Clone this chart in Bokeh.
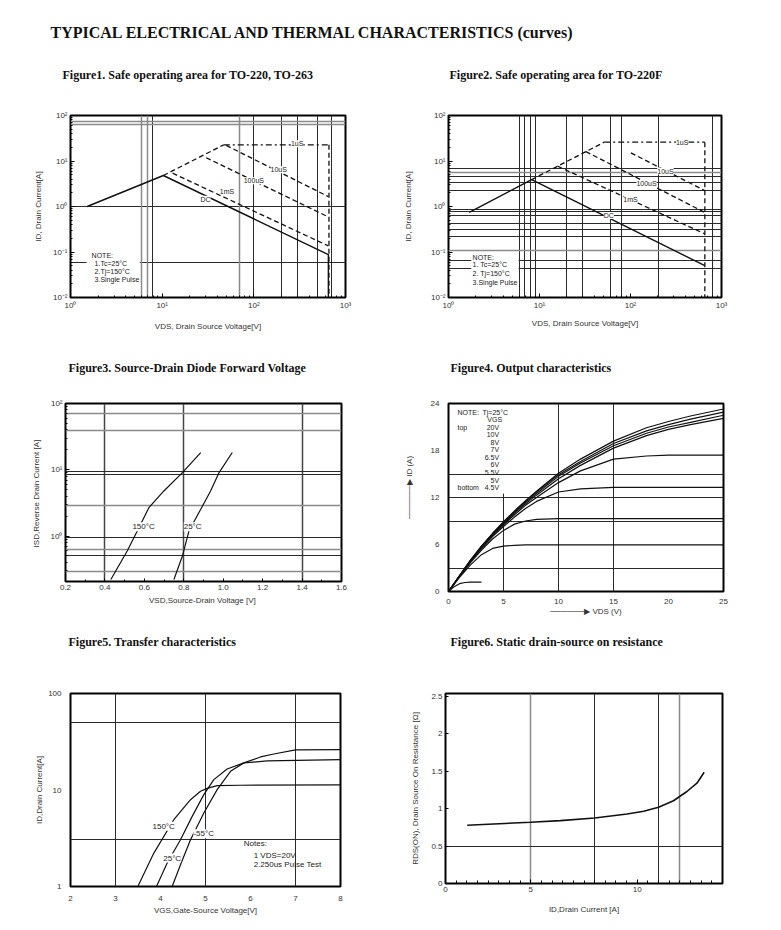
from bokeh.plotting import figure
from bokeh.models import FixedTicker, Grid, Label, Range1d, ColumnDataSource, BoxAnnotation
from bokeh.layouts import column, row
from bokeh.embed import file_html
from bokeh.resources import INLINE
from bokeh.core.properties import value

# ------------------------------------------------------------------ data
page_title = "TYPICAL ELECTRICAL AND THERMAL CHARACTERISTICS (curves)"
fig_titles = [
    "Figure1. Safe operating area for TO-220,  TO-263",
    "Figure2. Safe operating area for TO-220F",
    "Figure3. Source-Drain Diode Forward Voltage",
    "Figure4. Output characteristics",
    "Figure5. Transfer characteristics",
    "Figure6. Static drain-source on resistance",
]

# log tick labels
dec_ticks_x = [1, 10, 100, 1000]
dec_labels_x = ["10\u2070", "10\u00b9", "10\u00b2", "10\u00b3"]
dec_ticks_y = [0.01, 0.1, 1, 10, 100]
dec_labels_y = ["10\u207b\u00b2", "10\u207b\u00b9", "10\u2070", "10\u00b9", "10\u00b2"]

# Figure 1 : SOA TO-220 / TO-263
f1_dc_v = [1.52, 10.3, 650, 650]
f1_dc_i = [1.0, 4.8, 0.088, 0.01]
f1_lim_v = [10.3, 47.0]
f1_lim_i = [4.8, 22.7]
f1_1us_v = [47.0, 660]
f1_1us_i = [22.7, 22.7]
f1_edge_v = [660, 660]
f1_edge_i = [22.7, 0.01]
f1_10us_v = [50, 650]
f1_10us_i = [22.0, 1.65]
f1_100us_v = [30.2, 650]
f1_100us_i = [11.8, 0.59]
f1_1ms_v = [13.0, 650]
f1_1ms_i = [5.4, 0.136]
f1_curve_labels = ["1uS", "10uS", "100uS", "1mS", "DC"]
f1_label_v = [297, 187, 100, 51, 29.7]
f1_label_i = [23.9, 6.4, 3.7, 2.17, 1.45]
f1_grid_x_dark = [7.9, 100, 200, 300, 500, 700]
f1_grid_x_light = [5.9, 6.9, 70]
f1_grid_y_dark = [1.0, 0.058]
f1_grid_y_light = [63, 75]

# Figure 2 : SOA TO-220F
f2_dc_v = [1.69, 8.2, 656]
f2_dc_i = [0.74, 3.9, 0.050]
f2_lim_v = [8.2, 51.4]
f2_lim_i = [3.9, 25.9]
f2_1us_v = [51.4, 656]
f2_1us_i = [25.9, 25.9]
f2_edge_v = [656, 656]
f2_edge_i = [25.9, 0.01]
f2_10us_v = [101, 656]
f2_10us_i = [15.1, 2.23]
f2_100us_v = [32.3, 656]
f2_100us_i = [16.1, 0.74]
f2_1ms_v = [15.8, 656]
f2_1ms_i = [7.7, 0.25]
f2_curve_labels = ["1uS", "10uS", "100uS", "1mS", "DC"]
f2_label_v = [370, 242, 150, 100, 57.8]
f2_label_i = [25.9, 6.0, 3.15, 1.40, 0.634]
f2_grid_x_dark = [6.0, 6.9, 7.9, 9.0, 20, 30, 61, 80, 203, 800]
f2_grid_y_dark = [6.7, 4.5, 3.3, 2.2, 0.88, 0.77, 0.63, 0.43, 0.31, 0.22, 0.066, 0.044]
f2_grid_y_light = [5.65, 0.107]

note_lines_f1 = ["NOTE:", "1.Tc=25\u00b0C", "2.Tj=150\u00b0C", "3.Single Pulse"]
note_lines_f2 = ["NOTE:", "1. Tc=25\u00b0C", "2. Tj=150\u00b0C", "3.Single Pulse"]

# Figure 3 : diode forward voltage
f3_150_v = [0.43, 0.513, 0.564, 0.623, 0.699, 0.793, 0.886]
f3_150_i = [0.221, 0.593, 1.19, 2.68, 4.79, 9.06, 18.2]
f3_25_v = [0.750, 0.793, 0.826, 0.886, 0.936, 0.979, 1.046]
f3_25_i = [0.221, 0.499, 1.19, 2.53, 4.79, 9.06, 18.2]
f3_x_ticks = [0.2, 0.4, 0.6, 0.8, 1.0, 1.2, 1.4, 1.6]
f3_x_labels = ["0.2", "0.4", "0.6", "0.8", "1.0", "1.2", "1.4", "1.6"]
f3_y_ticks = [1, 10, 100]
f3_y_labels = ["10\u2070", "10\u00b9", "10\u00b2"]
f3_grid_x = [0.4, 0.8, 1.4]
f3_grid_y_dark = [9.27, 8.36, 0.966, 0.51]
f3_grid_y_light = [70.6, 38.6, 2.84, 0.63, 0.296]

# Figure 4 : output characteristics
out_vds = [0, 1, 2, 3, 4, 5, 6, 7, 8, 10, 12, 15, 18, 20, 22, 25]
id_20v = [0, 2.0, 4.0, 5.8, 7.4, 8.9, 10.3, 11.6, 12.8, 15.1, 16.9, 19.2, 20.9, 21.7, 22.4, 23.3]
id_10v = [0, 2.0, 4.0, 5.8, 7.4, 8.8, 10.2, 11.5, 12.7, 14.9, 16.6, 18.9, 20.5, 21.3, 22.0, 22.9]
id_8v = [0, 2.0, 3.9, 5.7, 7.3, 8.7, 10.1, 11.4, 12.5, 14.7, 16.4, 18.6, 20.2, 21.0, 21.6, 22.5]
id_7v = [0, 2.0, 3.9, 5.7, 7.2, 8.6, 10.0, 11.2, 12.3, 14.4, 16.1, 18.3, 19.9, 20.7, 21.3, 22.1]
id_6v5 = [0, 2.0, 3.9, 5.6, 7.1, 8.5, 9.8, 11.0, 12.0, 13.9, 15.4, 16.9, 17.3, 17.4, 17.4, 17.4]
id_6v = [0, 1.9, 3.8, 5.5, 7.0, 8.3, 9.5, 10.6, 11.5, 12.7, 13.1, 13.3, 13.3, 13.3, 13.3, 13.3]
id_5v5 = [0, 1.9, 3.7, 5.3, 6.7, 7.8, 8.6, 9.0, 9.2, 9.3, 9.3, 9.3, 9.3, 9.3, 9.3, 9.3]
id_5v = [0, 1.8, 3.4, 4.7, 5.5, 5.8, 5.9, 5.95, 5.95, 5.95, 5.95, 5.95, 5.95, 5.95, 5.95, 5.95]
vds_4v5 = [0, 0.5, 1, 1.5, 2, 3]
id_4v5 = [0, 0.6, 1.0, 1.15, 1.2, 1.2]
vgs_levels = ["20V", "10V", "8V", "7V", "6.5V", "6V", "5.5V", "5V", "4.5V"]
f4_x_ticks = [0, 5, 10, 15, 20, 25]
f4_y_ticks = [0, 6, 12, 18, 24]
f4_grid_x = [10, 15]
f4_grid_y = [3, 9, 12, 15]

# Figure 5 : transfer characteristics
f5_150_v = [3.504, 3.852, 4.296, 4.667, 4.889, 5.037, 5.259, 5.778, 8.0]
f5_150_i = [1.016, 2.22, 4.92, 7.93, 9.69, 10.4, 11.1, 11.2, 11.3]
f5_25_v = [3.911, 4.148, 4.444, 4.704, 4.963, 5.185, 5.481, 5.852, 6.370, 8.0]
f5_25_i = [1.0, 1.75, 3.05, 5.33, 8.95, 12.8, 16.5, 19.1, 20.0, 20.6]
f5_m55_v = [4.259, 4.444, 4.667, 4.963, 5.259, 5.556, 5.852, 6.222, 6.519, 7.0, 8.0]
f5_m55_i = [1.0, 1.68, 3.05, 5.77, 10.1, 15.6, 19.1, 22.0, 23.6, 26.0, 26.2]
f5_x_ticks = [2, 3, 4, 5, 6, 7, 8]
f5_y_ticks = [1, 10, 100]
f5_y_labels = ["1", "10", "100"]
f5_grid_x = [3, 5, 7]
f5_grid_y = [50, 3.05]

# Figure 6 : on resistance
f6_id = [2.02, 3.26, 4.98, 6.39, 8.0, 9.52, 10.3, 11.0, 11.7, 12.33, 12.8, 13.14]
f6_r = [0.779, 0.796, 0.819, 0.841, 0.876, 0.929, 0.965, 1.018, 1.106, 1.230, 1.341, 1.487]
f6_x_ticks = [1, 5, 10]
f6_x_labels = ["0", "5", "10"]
f6_y_ticks = [0, 0.5, 1, 1.5, 2, 2.5]
f6_y_labels = ["0", "0.5", "1", "1.5", "2", "2.5"]
f6_grid_x_dark = [8, 11]
f6_grid_x_light = [5, 12]
f6_grid_y = [0.5]

# ------------------------------------------------------------------ style helpers
SANS = "Liberation Sans"
SERIF = "Liberation Serif"
INK = "#111111"
TXT = "#333333"
DARK = "#2a2a2a"
LIGHT = "#8a8a8a"
PAGE_W = 773


def base_fig(xr, yr, fw, fh, bl, br, bt, bb, xt="linear", yt="linear"):
    p = figure(x_axis_type=xt, y_axis_type=yt, x_range=Range1d(*xr), y_range=Range1d(*yr),
               frame_width=fw, frame_height=fh, min_border_left=bl, min_border_right=br,
               min_border_top=bt, min_border_bottom=bb, output_backend="svg",
               toolbar_location=None)
    p.outline_line_color = "black"
    p.outline_line_width = 2
    p.grid.visible = False
    for ax in (p.xaxis[0], p.yaxis[0]):
        ax.axis_line_color = None
        ax.major_tick_line_color = None
        ax.minor_tick_line_color = None
        ax.major_label_text_font = SANS
        ax.major_label_text_font_size = "8px"
        ax.major_label_text_color = TXT
        ax.axis_label_text_font = SANS
        ax.axis_label_text_font_size = "8px"
        ax.axis_label_text_font_style = "normal"
        ax.axis_label_text_color = TXT
        ax.major_label_standoff = 3
        ax.axis_label_standoff = 4
    return p


def inner_ticks(ax, major=0, minor=3):
    ax.major_tick_line_color = "black" if major else None
    ax.major_tick_in = major
    ax.major_tick_out = 0
    ax.minor_tick_line_color = "black" if minor else None
    ax.minor_tick_in = minor
    ax.minor_tick_out = 0


def add_grid(p, dim, ticks, color, width=1.0):
    p.add_layout(Grid(dimension=dim, ticker=FixedTicker(ticks=ticks),
                      grid_line_color=color, grid_line_width=width))


def txt(p, x, y, text, size="7px", align="left", baseline="middle", bg=None):
    lab = Label(x=x, y=y, text=text, text_font=SANS, text_font_size=size, text_color="#222222",
                text_align=align, text_baseline=baseline)
    if bg:
        lab.background_fill_color = bg
    p.add_layout(lab)


def strip(height, items):
    """A text band (page title / figure captions); coordinates are pixels of the band."""
    s = figure(width=PAGE_W, height=height, x_range=Range1d(0, PAGE_W), y_range=Range1d(0, height),
               x_axis_location=None, y_axis_location=None, toolbar_location=None,
               output_backend="svg", min_border=0)
    s.outline_line_color = None
    s.grid.visible = False
    for x, y_from_top, text, size in items:
        s.add_layout(Label(x=x, y=height - y_from_top, text=text, text_font=SERIF,
                           text_font_size=size, text_font_style="bold",
                           text_baseline="middle", text_color=INK))
    return s


log_minor = lambda lo, hi: [m * 10.0 ** k for k in range(lo, hi) for m in range(2, 10)]

# ------------------------------------------------------------------ caption bands
band_a = strip(95, [(50, 32, page_title, "16px"),
                    (62, 74, fig_titles[0], "12px"),
                    (449, 74, fig_titles[1], "12px")])
band_b = strip(45, [(68, 27, fig_titles[2], "12px"),
                    (450, 27, fig_titles[3], "12px")])
band_c = strip(40, [(68, 21, fig_titles[4], "12px"),
                    (450, 21, fig_titles[5], "12px")])


# ------------------------------------------------------------------ SOA figures
def soa(dc, lim, us1, edge, us10, us100, ms1, lab_txt, lab_v, lab_i,
        gx_dark, gx_light, gy_dark, gy_light, notes, note_x, note_y, box,
        bl, br, fw, xstand, ystand):
    p = base_fig((1, 1000), (0.01, 100), fw, 182, bl, br, 20, 43, "log", "log")
    p.xaxis.axis_label = "VDS, Drain Source Voltage[V]"
    p.yaxis.axis_label = "ID, Drain Current[A]"
    p.xaxis.axis_label_standoff = xstand
    p.yaxis.axis_label_standoff = ystand
    for ax, ticks, labels, minors in ((p.xaxis[0], dec_ticks_x, dec_labels_x, log_minor(0, 3)),
                                      (p.yaxis[0], dec_ticks_y, dec_labels_y, log_minor(-2, 2))):
        ax.ticker = FixedTicker(ticks=ticks, minor_ticks=minors)
        ax.major_label_overrides = dict(zip(ticks, labels))
        inner_ticks(ax, major=4, minor=2)
    add_grid(p, 0, gx_dark, DARK)
    add_grid(p, 1, gy_dark, DARK)
    if gx_light:
        add_grid(p, 0, gx_light, LIGHT, 1.5)
    if gy_light:
        add_grid(p, 1, gy_light, LIGHT, 1.5)
    p.line(dc[0], dc[1], line_color=INK, line_width=1.4)
    p.line(lim[0], lim[1], line_color=INK, line_width=1.3, line_dash="5 3")
    p.line(us1[0], us1[1], line_color=INK, line_width=1.3, line_dash="6 3 2 3")
    p.line(edge[0], edge[1], line_color=INK, line_width=1.3, line_dash="5 3")
    for c in (us10, us100, ms1):
        p.line(c[0], c[1], line_color=INK, line_width=1.3, line_dash="5 3")
    for t, v, i in zip(lab_txt, lab_v, lab_i):
        txt(p, v, i, t, size="7px", align="center", bg="white")
    p.add_layout(BoxAnnotation(left=box[0], right=box[1], bottom=box[2], top=box[3],
                               fill_color="white", fill_alpha=1.0, line_color=None))
    for k, line in enumerate(notes):
        txt(p, note_x[k], note_y[k], line, size="7px")
    return p


p1 = soa((f1_dc_v, f1_dc_i), (f1_lim_v, f1_lim_i), (f1_1us_v, f1_1us_i),
         (f1_edge_v, f1_edge_i), (f1_10us_v, f1_10us_i), (f1_100us_v, f1_100us_i),
         (f1_1ms_v, f1_1ms_i), f1_curve_labels, f1_label_v, f1_label_i,
         f1_grid_x_dark, f1_grid_x_light, f1_grid_y_dark, f1_grid_y_light,
         note_lines_f1, [1.70, 1.83, 1.83, 1.83], [0.0838, 0.0558, 0.0373, 0.0249],
         (1.5, 5.7, 0.02, 0.1), 70, 50, 275, 9, 7)

p2 = soa((f2_dc_v, f2_dc_i), (f2_lim_v, f2_lim_i), (f2_1us_v, f2_1us_i),
         (f2_edge_v, f2_edge_i), (f2_10us_v, f2_10us_i), (f2_100us_v, f2_100us_i),
         (f2_1ms_v, f2_1ms_i), f2_curve_labels, f2_label_v, f2_label_i,
         f2_grid_x_dark, None, f2_grid_y_dark, f2_grid_y_light,
         note_lines_f2, [1.84, 1.84, 1.84, 1.84], [0.0769, 0.0531, 0.0342, 0.0217],
         (1.78, 5.9, 0.0155, 0.095), 53, 52, 273, 6, 15)

# ------------------------------------------------------------------ Figure 3
p3 = base_fig((0.2, 1.6), (0.206, 100), 276, 178, 65, 54, 18, 39, "linear", "log")
p3.xaxis.axis_label = "VSD,Source-Drain Voltage  [V]"
p3.yaxis.axis_label = "ISD,Reverse Drain Current  [A]"
p3.xaxis.axis_label_standoff = 3
p3.yaxis.axis_label_standoff = 7
p3.xaxis.ticker = FixedTicker(ticks=f3_x_ticks, minor_ticks=[0.3, 0.5, 0.7, 0.9, 1.1, 1.3, 1.5])
p3.xaxis.major_label_overrides = dict(zip(f3_x_ticks, f3_x_labels))
p3.yaxis.ticker = FixedTicker(ticks=f3_y_ticks, minor_ticks=[0.3, 0.4, 0.5, 0.6, 0.7, 0.8, 0.9] + log_minor(0, 2))
p3.yaxis.major_label_overrides = dict(zip(f3_y_ticks, f3_y_labels))
inner_ticks(p3.xaxis[0], major=3, minor=2)
inner_ticks(p3.yaxis[0], major=4, minor=2)
add_grid(p3, 0, f3_grid_x, "#444444", 1.5)
add_grid(p3, 1, f3_grid_y_dark, DARK)
add_grid(p3, 1, f3_grid_y_light, LIGHT, 1.3)
p3.line(f3_150_v, f3_150_i, line_color=INK, line_width=1.2)
p3.line(f3_25_v, f3_25_i, line_color=INK, line_width=1.2)
txt(p3, 0.596, 1.38, "150\u00b0C", size="8px", align="center", bg="white")
txt(p3, 0.845, 1.38, "25\u00b0C", size="8px", align="center", bg="white")

# ------------------------------------------------------------------ Figure 4
ARROW = "\u2500" * 6 + "\u25b6"
p4 = base_fig((0, 25), (0, 24), 275, 188, 53, 50, 15, 32)
p4.xaxis.axis_label = ARROW + " VDS (V)"
p4.yaxis.axis_label = "\u00a0" * 10 + ARROW + "  ID (A)"
p4.xaxis.major_label_standoff = 1
p4.xaxis.axis_label_standoff = 0
p4.yaxis.axis_label_standoff = 14
p4.xaxis.ticker = FixedTicker(ticks=f4_x_ticks)
p4.yaxis.ticker = FixedTicker(ticks=f4_y_ticks)
add_grid(p4, 0, f4_grid_x, DARK)
add_grid(p4, 1, f4_grid_y, DARK)
p4.segment(x0=[5], y0=[0], x1=[5], y1=[12.5], line_color=DARK, line_width=1)
for ids in (id_20v, id_10v, id_8v, id_7v, id_6v5, id_6v, id_5v5, id_5v):
    p4.line(out_vds, ids, line_color=INK, line_width=1.2)
p4.line(vds_4v5, id_4v5, line_color=INK, line_width=1.2)
txt(p4, 0.82, 22.85, "NOTE:")
txt(p4, 3.09, 22.85, "Tj=25\u00b0C")
txt(p4, 4.2, 21.9, "VGS", align="center")
txt(p4, 0.82, 21.0, "top")
txt(p4, 0.82, 13.26, "bottom")
src4 = ColumnDataSource(dict(x=[4.6] * len(vgs_levels),
                             y=[21.0 - 0.97 * k for k in range(len(vgs_levels))],
                             t=vgs_levels))
p4.text(x="x", y="y", text="t", source=src4, text_font=value(SANS), text_font_size=value("7px"),
        text_align="right", text_baseline="middle", text_color="#222222")

# ------------------------------------------------------------------ Figure 5
p5 = base_fig((2, 8), (1, 100), 270, 193, 70, 55, 31, 38, "linear", "log")
p5.xaxis.axis_label = "VGS,Gate-Source Voltage[V]"
p5.yaxis.axis_label = "ID,Drain Current[A]"
p5.xaxis.axis_label_standoff = 2
p5.yaxis.axis_label_standoff = 1
p5.xaxis.ticker = FixedTicker(ticks=f5_x_ticks)
p5.yaxis.ticker = FixedTicker(ticks=f5_y_ticks)
p5.yaxis.major_label_overrides = dict(zip(f5_y_ticks, f5_y_labels))
add_grid(p5, 0, f5_grid_x, DARK)
add_grid(p5, 1, f5_grid_y, DARK)
p5.line(f5_150_v, f5_150_i, line_color=INK, line_width=1.2)
p5.line(f5_25_v, f5_25_i, line_color=INK, line_width=1.2)
p5.line(f5_m55_v, f5_m55_i, line_color=INK, line_width=1.2)
txt(p5, 4.07, 4.2, "150\u00b0C", size="8px", align="center", bg="white")
txt(p5, 4.96, 3.52, "-55\u00b0C", size="8px", align="center", bg="white")
txt(p5, 4.26, 1.97, "25\u00b0C", size="8px", align="center", bg="white")
txt(p5, 5.85, 2.82, "Notes:", size="8px")
txt(p5, 6.07, 2.08, "1  VDS=20V", size="8px")
txt(p5, 6.07, 1.68, "2.250us Pulse Test", size="8px")

# ------------------------------------------------------------------ Figure 6
p6 = base_fig((1, 14), (0, 2.54), 277, 190, 50, 51, 33, 39)
p6.xaxis.axis_label = "ID,Drain Current [A]"
p6.yaxis.axis_label = "RDS(ON), Drain Source On Resistance [\u03a9]"
p6.xaxis.axis_label_standoff = 10
p6.yaxis.axis_label_standoff = 8
p6.xaxis.ticker = FixedTicker(ticks=f6_x_ticks, minor_ticks=[1.5 + 0.5 * k for k in range(25)])
p6.xaxis.major_label_overrides = dict(zip(f6_x_ticks, f6_x_labels))
p6.yaxis.ticker = FixedTicker(ticks=f6_y_ticks)
p6.yaxis.major_label_overrides = dict(zip(f6_y_ticks, f6_y_labels))
inner_ticks(p6.xaxis[0], major=4, minor=3)
inner_ticks(p6.yaxis[0], major=3, minor=0)
add_grid(p6, 0, f6_grid_x_dark, DARK)
add_grid(p6, 0, f6_grid_x_light, LIGHT, 1.5)
add_grid(p6, 1, f6_grid_y, DARK)
p6.line(f6_id, f6_r, line_color=INK, line_width=1.6)

# ------------------------------------------------------------------ layout
layout = column(band_a, row(p1, p2), band_b, row(p3, p4), band_c, row(p5, p6))
open("out.html", "w").write(file_html(layout, INLINE))
